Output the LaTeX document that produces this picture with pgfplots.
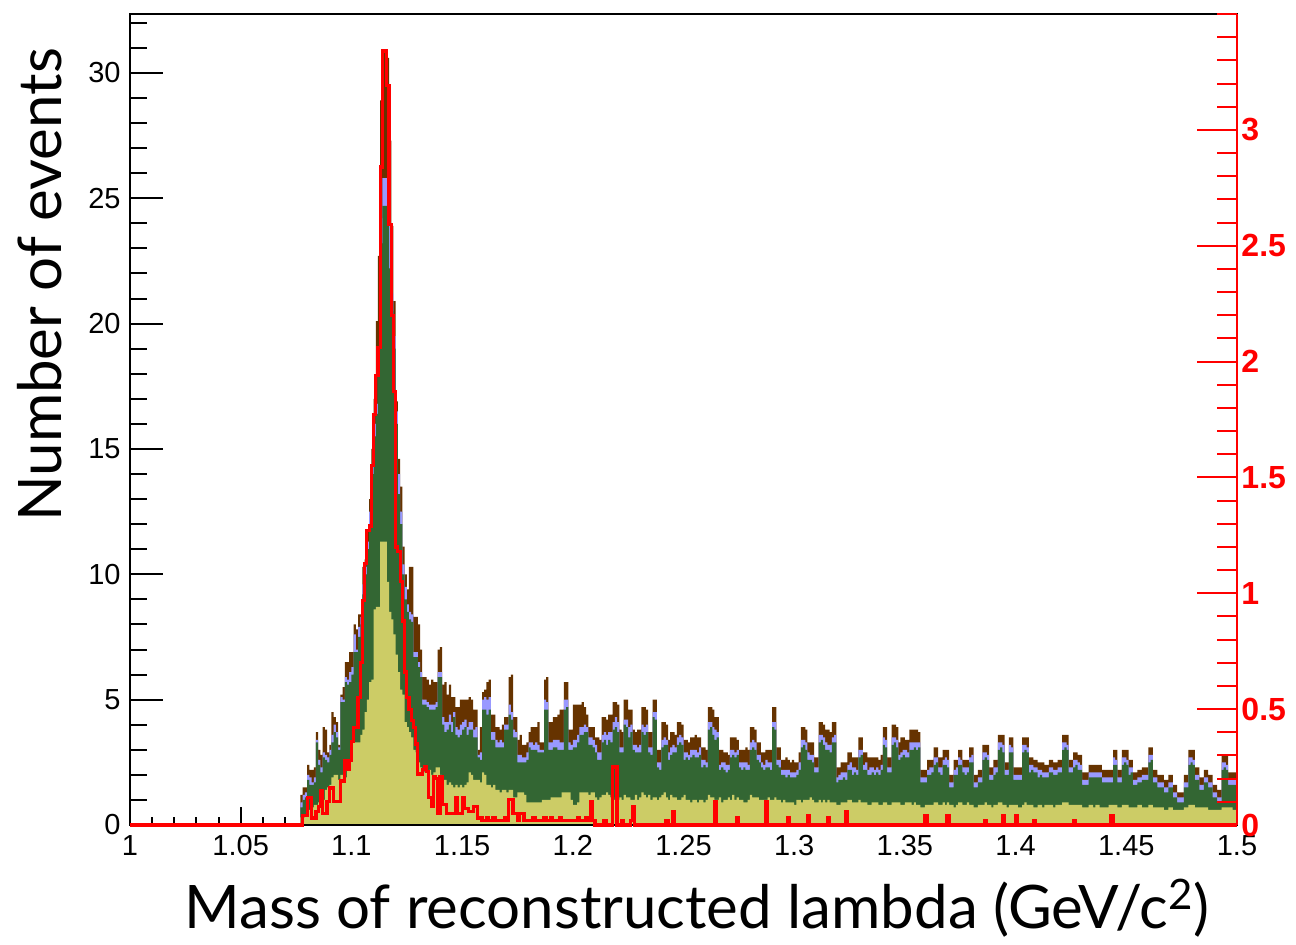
\documentclass[border=0pt]{standalone}
\usepackage{pgfplots}
\pgfplotsset{compat=1.18}
\usepackage{pgfplotstable}
\usepackage{fontspec}
\setmainfont{Liberation Sans}
\newfontfamily\titlefont{Lato}
\definecolor{cyel}{RGB}{204,204,102}
\definecolor{cgrn}{RGB}{51,102,51}
\definecolor{clav}{RGB}{153,153,255}
\definecolor{cbrn}{RGB}{102,51,0}
\pgfplotstableread{
x Y G L B R
1.000 0 0 0 0 0
1.076 0 0 0 0 0
1.077 0.3 0.7 0.9 1.2 0
1.078 0.3 1.0 1.2 1.5 0.04
1.079 0.4 1.1 1.3 1.5 0.04
1.080 0.6 1.8 2.0 2.4 0.12
1.081 0.6 1.6 1.9 2.2 0.12
1.082 0.7 1.6 1.7 2.2 0.03
1.083 0.8 1.7 1.9 2.3 0.03
1.084 0.8 3.3 3.4 3.7 0.06
1.085 0.9 2.4 2.6 3.0 0.08
1.086 1.0 2.1 2.3 2.8 0.15
1.087 1.0 2.7 2.9 3.9 0.05
1.088 1.4 2.6 2.8 3.8 0.05
1.089 1.5 2.5 2.7 2.9 0.10
1.090 1.6 2.8 3.0 3.2 0.16
1.091 1.9 3.3 3.6 4.5 0.16
1.092 2.0 3.7 4.0 4.3 0.10
1.093 2.0 3.5 3.7 4.1 0.10
1.094 1.8 3.0 3.1 3.2 0.10
1.095 2.0 4.9 5.1 5.2 0.19
1.096 2.0 4.9 5.0 5.5 0.19
1.097 1.9 5.7 5.9 6.5 0.28
1.098 2.5 5.6 5.8 6.5 0.24
1.099 2.6 5.7 6.1 6.9 0.28
1.100 3.3 6.0 6.3 6.9 0.36
1.101 3.3 6.9 7.6 8.0 0.42
1.102 3.3 6.9 7.0 7.8 0.42
1.103 3.3 7.5 7.9 8.4 0.55
1.104 3.6 8.0 8.3 8.4 0.70
1.105 3.8 9.2 9.6 10.3 0.97
1.106 4.5 10.0 10.3 10.6 1.13
1.107 5.0 11.0 11.3 11.8 1.27
1.108 5.7 12.0 12.5 13.0 1.29
1.109 5.8 14.0 14.4 15.0 1.55
1.110 8.6 15.5 16.0 17.0 1.77
1.111 8.7 16.4 16.8 20.1 1.94
1.112 8.7 18.5 19.0 22.7 2.06
1.113 11.3 23.2 24.2 28.9 2.84
1.114 11.3 24.7 25.8 30.8 3.34
1.115 11.3 24.7 25.8 30.8 3.34
1.116 9.7 24.5 25.5 30.6 3.19
1.117 8.5 22.2 23.9 27.3 2.59
1.118 8.2 20.5 21.2 23.9 2.20
1.119 7.6 19.0 19.5 20.9 1.87
1.120 6.8 16.0 16.5 16.9 1.20
1.121 6.1 13.2 14.0 14.6 1.18
1.122 5.4 12.0 12.5 13.5 1.05
1.123 5.2 10.0 10.4 11.1 0.88
1.124 4.1 9.0 9.5 10.0 0.66
1.125 3.9 8.5 8.8 9.4 0.55
1.126 3.7 8.2 8.5 10.3 0.50
1.127 3.5 8.1 8.4 10.3 0.45
1.128 3.0 6.7 6.9 8.3 0.42
1.129 2.9 6.7 6.9 8.3 0.35
1.130 2.5 6.3 6.5 8.0 0.22
1.131 2.3 5.9 6.1 7.0 0.22
1.132 2.2 4.8 5.0 5.9 0.24
1.133 2.1 4.8 5.0 5.9 0.25
1.134 2.1 4.7 4.9 5.8 0.23
1.135 2.2 4.6 4.8 5.6 0.12
1.136 2.0 4.6 4.8 5.8 0.08
1.137 2.1 4.6 4.8 5.7 0.21
1.138 2.3 4.7 4.9 5.7 0.20
1.139 2.3 5.9 6.1 7.0 0.05
1.140 2.0 5.9 6.1 7.1 0.21
1.141 1.8 4.0 4.3 5.6 0.09
1.142 1.8 3.7 4.1 5.7 0.09
1.143 1.6 3.8 4.1 5.2 0.05
1.144 1.7 4.0 4.4 5.6 0.05
1.145 1.6 3.7 4.1 5.1 0.05
1.146 1.5 4.3 4.5 5.1 0.05
1.147 1.6 3.6 3.9 4.7 0.12
1.148 1.5 3.5 3.8 4.7 0.05
1.149 1.6 3.6 4.0 5.0 0.05
1.150 1.5 3.8 4.1 5.0 0.12
1.151 1.6 3.9 4.2 5.0 0.07
1.152 1.7 3.6 3.9 5.0 0.07
1.153 2.1 3.8 4.1 5.1 0.06
1.154 2.0 3.8 4.1 5.0 0.06
1.155 1.8 3.5 3.8 4.6 0.08
1.156 1.8 3.5 3.9 4.6 0.08
1.157 1.8 2.7 2.8 3.0 0.03
1.158 1.7 2.6 2.9 3.9 0.03
1.159 2.1 4.6 5.0 5.3 0.02
1.160 2.0 4.6 5.1 5.4 0.02
1.161 1.6 4.4 5.0 5.7 0.03
1.162 1.6 4.6 5.1 5.8 0.02
1.163 1.5 3.4 3.7 4.4 0.02
1.164 1.6 3.4 3.7 4.4 0.03
1.165 1.4 3.1 3.4 3.9 0.02
1.166 1.4 3.1 3.3 3.9 0.02
1.167 1.3 3.1 3.4 3.8 0.02
1.168 1.4 3.1 3.3 4.0 0.02
1.169 1.4 3.8 4.0 4.3 0.03
1.170 1.3 3.8 4.0 4.3 0.02
1.171 1.4 4.4 4.8 5.9 0.11
1.172 1.4 4.2 4.5 6.0 0.11
1.173 1.1 3.5 3.8 4.3 0.05
1.174 1.1 3.5 3.7 4.3 0.05
1.175 1.3 2.5 2.8 3.4 0.02
1.176 1.3 2.5 2.8 3.6 0.05
1.177 1.3 2.5 2.7 3.2 0.05
1.178 1.2 2.5 2.7 3.2 0.02
1.179 0.9 2.6 2.9 3.3 0.02
1.180 0.9 3.1 3.3 3.7 0.02
1.181 0.9 3.0 3.3 3.9 0.02
1.182 0.9 3.0 3.2 3.9 0.03
1.183 0.9 3.0 3.3 3.9 0.02
1.184 0.9 2.9 3.2 4.1 0.02
1.185 0.9 2.9 3.0 3.3 0.02
1.186 1.0 2.9 3.0 3.3 0.02
1.187 1.0 4.6 5.0 5.8 0.03
1.188 1.0 4.6 4.9 5.9 0.02
1.189 1.0 3.0 3.3 4.1 0.02
1.190 1.1 3.0 3.3 4.1 0.03
1.191 1.1 3.1 3.4 4.3 0.02
1.192 1.1 3.1 3.4 4.3 0.02
1.193 1.1 3.0 3.4 4.4 0.02
1.194 1.1 3.0 3.3 4.6 0.03
1.195 1.3 3.0 3.3 4.6 0.02
1.196 1.3 4.6 5.0 5.7 0.02
1.197 1.3 4.7 5.0 5.7 0.02
1.198 1.3 3.0 3.3 3.8 0.02
1.199 1.0 3.0 3.2 3.8 0.02
1.200 0.8 3.1 3.4 4.8 0.02
1.201 0.8 3.1 3.4 4.8 0.02
1.202 0.9 3.3 3.6 4.8 0.03
1.203 1.3 3.6 3.9 4.8 0.02
1.204 1.3 3.6 3.9 4.9 0.02
1.205 1.3 3.7 4.0 4.7 0.02
1.206 1.3 3.7 3.9 4.4 0.03
1.207 1.2 3.2 3.5 3.9 0.02
1.208 1.3 3.2 3.5 3.9 0.10
1.209 1.3 3.1 3.4 3.9 0.02
1.210 1.1 2.9 3.2 3.5 0
1.211 1.0 2.6 2.9 3.5 0
1.212 1.1 2.6 2.9 3.4 0
1.213 1.2 3.3 3.6 4.3 0
1.214 1.2 3.4 3.7 4.3 0.02
1.215 1.3 3.2 3.6 4.2 0
1.216 1.2 3.4 3.7 4.4 0
1.217 1.1 3.3 3.7 4.4 0
1.218 1.0 3.8 4.1 4.9 0.25
1.219 1.1 3.9 4.3 4.9 0.25
1.220 1.0 3.7 4.1 4.8 0
1.221 1.1 2.9 3.1 3.8 0
1.222 1.0 2.9 3.1 3.7 0.02
1.223 1.2 4.0 4.2 5.0 0
1.224 1.1 3.9 4.2 5.0 0
1.225 1.1 3.5 3.9 4.6 0
1.226 1.0 3.7 4.0 4.6 0.02
1.227 1.0 3.0 3.2 3.8 0.08
1.228 1.2 2.9 3.2 3.7 0
1.229 1.0 2.9 3.1 3.8 0
1.230 1.1 2.9 3.2 3.8 0
1.231 1.3 3.7 4.0 4.7 0
1.232 1.2 3.6 3.9 4.7 0
1.233 1.1 3.7 4.0 4.6 0
1.234 1.2 2.9 3.1 3.7 0
1.235 1.0 2.8 3.1 3.7 0
1.236 1.1 4.3 4.5 5.0 0
1.237 1.1 4.2 4.5 5.0 0
1.238 1.0 2.3 2.5 3.0 0
1.239 1.1 2.2 2.5 3.0 0
1.240 1.2 3.1 3.4 4.1 0
1.241 1.3 3.2 3.5 4.1 0
1.242 1.1 3.2 3.4 4.0 0.02
1.243 1.0 2.6 2.9 3.4 0
1.244 1.2 2.8 3.1 3.7 0
1.245 1.1 2.9 3.2 3.7 0.06
1.246 1.1 2.9 3.1 3.6 0
1.247 1.0 3.2 3.5 4.1 0
1.248 1.0 3.3 3.6 4.1 0
1.249 1.1 3.2 3.5 4.0 0
1.250 1.2 2.6 2.9 3.4 0
1.251 1.0 2.7 2.9 3.4 0
1.252 1.0 2.6 2.8 3.3 0
1.253 0.9 2.7 3.0 3.5 0
1.254 1.0 2.8 3.0 3.5 0
1.255 1.0 2.7 3.0 3.6 0
1.256 0.9 2.7 2.9 3.5 0
1.257 1.0 2.8 3.1 3.5 0
1.258 1.0 2.3 2.6 3.1 0
1.259 0.9 2.4 2.6 3.1 0
1.260 1.0 2.3 2.5 3.0 0
1.261 1.2 3.8 4.1 4.7 0
1.262 1.1 3.9 4.1 4.7 0
1.263 1.1 3.6 3.9 4.6 0
1.264 1.0 3.4 3.8 4.3 0.10
1.265 1.0 3.5 3.7 4.3 0
1.266 1.1 2.2 2.4 3.0 0
1.267 0.9 2.3 2.5 3.0 0
1.268 1.0 2.2 2.5 2.9 0
1.269 1.0 2.1 2.4 2.9 0
1.270 1.1 2.2 2.4 2.8 0
1.271 1.0 2.7 3.0 3.5 0
1.272 1.2 2.8 3.0 3.5 0
1.273 1.0 2.7 2.9 3.5 0
1.274 1.1 2.8 3.0 3.4 0.03
1.275 1.0 2.3 2.5 3.0 0
1.276 1.0 2.2 2.5 3.0 0
1.277 0.9 2.3 2.5 3.0 0
1.278 0.9 2.2 2.5 3.1 0
1.279 1.0 2.2 2.4 3.0 0
1.280 1.2 3.0 3.3 3.9 0
1.281 1.1 3.1 3.4 3.9 0
1.282 1.1 3.0 3.3 3.8 0
1.283 1.1 2.6 2.8 3.3 0
1.284 1.0 2.5 2.8 3.3 0
1.285 1.0 2.3 2.5 2.9 0
1.286 1.0 2.2 2.4 2.9 0
1.287 1.0 2.3 2.6 3.0 0.10
1.288 1.1 2.3 2.5 3.0 0
1.289 1.0 2.2 2.5 3.0 0
1.290 1.0 3.9 4.1 4.7 0
1.291 1.1 3.8 4.1 4.7 0
1.292 1.0 2.4 2.6 3.1 0
1.293 1.0 2.3 2.6 3.1 0
1.294 0.9 2.0 2.2 2.6 0
1.295 1.0 2.0 2.2 2.6 0
1.296 0.9 1.9 2.2 2.7 0
1.297 0.9 2.0 2.2 2.6 0.03
1.298 0.9 1.9 2.1 2.5 0
1.299 0.9 1.9 2.1 2.6 0
1.300 0.8 1.9 2.1 2.5 0
1.301 1.0 2.0 2.2 2.5 0
1.302 1.0 2.2 2.5 2.9 0
1.303 0.9 3.1 3.4 3.9 0
1.304 1.0 3.2 3.4 3.9 0
1.305 1.0 3.0 3.3 3.8 0
1.306 1.0 2.6 2.9 3.3 0.04
1.307 1.1 2.6 2.8 3.3 0
1.308 1.0 2.5 2.8 3.3 0
1.309 0.9 2.1 2.3 2.7 0
1.310 0.9 2.1 2.3 2.7 0
1.311 1.0 3.3 3.6 4.1 0
1.312 0.9 3.4 3.6 4.1 0
1.313 1.0 3.2 3.5 4.0 0
1.314 0.9 3.0 3.3 3.8 0
1.315 1.0 3.0 3.2 3.8 0.03
1.316 0.9 2.9 3.2 3.7 0
1.317 0.9 3.3 3.5 4.1 0
1.318 0.9 3.3 3.6 4.1 0
1.319 0.8 1.7 1.9 2.3 0
1.320 0.8 1.8 2.0 2.3 0
1.321 0.9 1.8 2.1 2.5 0
1.322 0.9 1.9 2.1 2.5 0
1.323 0.9 1.8 2.1 2.5 0.06
1.324 1.0 2.2 2.4 2.9 0
1.325 1.0 2.2 2.5 2.9 0
1.326 0.9 2.0 2.3 2.7 0
1.327 0.9 2.1 2.3 2.7 0
1.328 0.9 2.0 2.2 2.7 0
1.329 1.0 2.7 3.0 3.5 0
1.330 0.9 2.8 3.0 3.5 0
1.331 0.9 2.2 2.4 2.9 0
1.332 0.9 2.2 2.5 2.9 0
1.333 0.8 2.0 2.2 2.7 0
1.334 0.8 2.0 2.3 2.7 0
1.335 0.9 2.1 2.3 2.7 0
1.336 0.9 2.0 2.2 2.7 0
1.337 0.9 2.1 2.3 2.7 0
1.338 0.8 2.0 2.2 2.6 0
1.339 0.8 2.2 2.4 2.8 0
1.340 0.9 3.2 3.5 3.9 0
1.341 0.9 3.1 3.4 3.9 0
1.342 0.8 2.1 2.3 2.7 0
1.343 0.8 2.1 2.3 2.7 0
1.344 0.9 3.2 3.5 4.0 0
1.345 0.9 3.3 3.5 4.0 0
1.346 0.9 3.1 3.4 3.9 0
1.347 0.9 2.6 2.8 3.3 0
1.348 0.8 2.7 2.9 3.5 0
1.349 0.8 2.8 3.0 3.5 0
1.350 0.9 2.7 3.0 3.4 0
1.351 0.9 2.7 2.9 3.4 0
1.352 0.9 3.0 3.3 3.8 0
1.353 0.8 3.0 3.3 3.8 0
1.354 0.9 3.1 3.3 3.8 0
1.355 0.8 3.0 3.3 3.8 0
1.356 0.8 3.1 3.3 3.7 0
1.357 0.7 1.7 1.9 2.2 0
1.358 0.7 1.7 1.9 2.2 0
1.359 0.8 1.7 1.9 2.2 0.04
1.360 0.8 2.0 2.2 2.6 0
1.361 0.8 2.0 2.3 2.6 0
1.362 0.8 2.1 2.3 2.6 0
1.363 0.9 2.4 2.7 3.1 0
1.364 0.9 2.5 2.7 3.1 0
1.365 0.8 2.1 2.3 2.7 0
1.366 0.8 2.0 2.3 2.7 0
1.367 0.9 2.4 2.6 3.0 0
1.368 0.8 2.4 2.7 3.0 0
1.369 0.9 2.3 2.6 3.0 0.04
1.370 0.8 1.5 1.7 2.0 0
1.371 0.8 1.5 1.7 2.0 0
1.372 0.7 2.0 2.2 2.6 0
1.373 0.8 2.0 2.3 2.6 0
1.374 0.9 2.4 2.7 3.0 0
1.375 0.9 2.4 2.6 3.0 0
1.376 0.8 2.1 2.3 2.6 0
1.377 0.8 2.0 2.3 2.6 0
1.378 0.9 2.1 2.3 2.6 0
1.379 0.8 2.5 2.7 3.1 0
1.380 0.8 2.5 2.8 3.1 0
1.381 0.7 1.5 1.7 2.0 0
1.382 0.7 1.5 1.7 2.0 0
1.383 0.8 1.7 1.9 2.2 0
1.384 0.8 1.7 1.9 2.2 0
1.385 0.8 2.6 2.9 3.2 0
1.386 0.9 2.7 2.9 3.2 0.02
1.387 0.8 2.6 2.8 3.2 0
1.388 0.8 1.8 2.0 2.3 0
1.389 0.7 1.8 2.0 2.3 0
1.390 0.8 2.0 2.3 2.6 0
1.391 0.8 2.1 2.3 2.6 0
1.392 0.9 3.0 3.3 3.6 0
1.393 0.9 3.1 3.3 3.6 0
1.394 0.8 2.9 3.2 3.6 0.04
1.395 0.8 2.0 2.2 2.5 0
1.396 0.7 2.0 2.2 2.5 0
1.397 0.8 2.9 3.2 3.5 0
1.398 0.8 2.9 3.1 3.5 0
1.399 0.8 1.8 2.0 2.3 0
1.400 0.8 1.8 2.0 2.3 0.04
1.401 0.7 1.8 2.0 2.3 0
1.402 0.7 1.8 2.0 2.3 0
1.403 0.8 2.9 3.2 3.5 0
1.404 0.9 3.0 3.2 3.5 0
1.405 0.8 2.9 3.1 3.5 0
1.406 0.8 2.1 2.4 2.7 0
1.407 0.8 2.2 2.4 2.7 0
1.408 0.7 2.1 2.3 2.6 0.02
1.409 0.7 2.1 2.3 2.6 0
1.410 0.8 1.9 2.2 2.5 0
1.411 0.8 2.0 2.2 2.5 0
1.412 0.7 1.9 2.1 2.5 0
1.413 0.8 1.9 2.1 2.4 0
1.414 0.8 1.9 2.1 2.4 0
1.415 0.8 2.1 2.3 2.6 0
1.416 0.8 2.1 2.3 2.6 0
1.417 0.7 2.0 2.2 2.5 0
1.418 0.8 2.0 2.2 2.5 0
1.419 0.8 2.1 2.3 2.6 0
1.420 0.8 2.1 2.3 2.6 0
1.421 0.9 3.0 3.3 3.6 0
1.422 0.9 3.1 3.3 3.6 0
1.423 0.9 3.0 3.2 3.6 0
1.424 0.8 2.1 2.3 2.6 0
1.425 0.8 2.1 2.3 2.6 0
1.426 0.8 2.3 2.6 2.9 0.02
1.427 0.8 2.4 2.6 2.9 0
1.428 0.8 2.2 2.5 2.8 0
1.429 0.8 2.2 2.4 2.8 0
1.430 0.7 1.6 1.8 2.1 0
1.431 0.7 1.6 1.8 2.1 0
1.432 0.7 1.6 1.8 2.1 0
1.433 0.8 1.9 2.1 2.4 0
1.434 0.8 1.9 2.1 2.4 0
1.435 0.7 1.9 2.1 2.4 0
1.436 0.8 1.9 2.1 2.4 0
1.437 0.8 1.9 2.1 2.4 0
1.438 0.7 1.9 2.1 2.4 0
1.439 0.7 1.7 1.9 2.2 0
1.440 0.7 1.7 1.9 2.2 0
1.441 0.7 1.7 1.9 2.2 0
1.442 0.8 1.7 1.9 2.2 0
1.443 0.8 1.7 1.9 2.2 0.04
1.444 0.8 2.4 2.7 3.0 0
1.445 0.8 2.4 2.6 3.0 0
1.446 0.7 1.7 1.9 2.2 0
1.447 0.7 1.7 1.9 2.2 0
1.448 0.8 2.4 2.7 3.0 0
1.449 0.8 2.5 2.7 3.0 0
1.450 0.8 2.4 2.6 3.0 0
1.451 0.7 2.0 2.3 2.6 0
1.452 0.7 2.1 2.3 2.6 0
1.453 0.7 1.6 1.8 2.1 0
1.454 0.7 1.6 1.8 2.1 0
1.455 0.8 1.7 1.9 2.2 0
1.456 0.8 1.7 1.9 2.2 0
1.457 0.7 1.8 2.0 2.3 0
1.458 0.7 1.8 2.0 2.3 0
1.459 0.7 1.8 2.0 2.3 0
1.460 0.8 2.5 2.8 3.1 0
1.461 0.8 2.6 2.8 3.1 0
1.462 0.7 1.7 1.9 2.2 0
1.463 0.7 1.7 1.9 2.2 0
1.464 0.7 1.5 1.7 2.0 0
1.465 0.7 1.5 1.7 2.0 0
1.466 0.7 1.5 1.7 2.0 0
1.467 0.6 1.3 1.5 1.8 0
1.468 0.6 1.3 1.5 1.8 0
1.469 0.7 1.5 1.7 2.0 0
1.470 0.7 1.5 1.7 2.0 0
1.471 0.6 1.1 1.3 1.6 0
1.472 0.6 1.1 1.3 1.6 0
1.473 0.6 0.9 1.1 1.3 0
1.474 0.6 0.9 1.1 1.3 0
1.475 0.6 0.9 1.1 1.3 0
1.476 0.7 1.5 1.7 2.0 0
1.477 0.7 1.5 1.7 2.0 0
1.478 0.8 2.4 2.7 3.0 0
1.479 0.8 2.5 2.7 3.0 0
1.480 0.8 2.4 2.6 3.0 0
1.481 0.7 1.8 2.0 2.3 0
1.482 0.7 1.8 2.0 2.3 0
1.483 0.7 1.4 1.6 1.9 0
1.484 0.7 1.4 1.6 1.9 0
1.485 0.7 1.7 1.9 2.2 0
1.486 0.7 1.7 1.9 2.2 0
1.487 0.6 1.5 1.7 2.0 0
1.488 0.6 1.5 1.7 2.0 0
1.489 0.6 1.1 1.3 1.6 0
1.490 0.6 1.1 1.3 1.6 0
1.491 0.6 0.9 1.1 1.4 0
1.492 0.6 0.9 1.1 1.4 0
1.493 0.7 2.2 2.5 2.8 0
1.494 0.7 2.3 2.5 2.8 0
1.495 0.7 2.2 2.4 2.8 0
1.496 0.7 1.6 1.8 2.1 0
1.497 0.7 1.6 1.8 2.1 0
1.498 0.6 1.6 1.8 2.1 0
1.499 0.6 1.6 1.8 2.1 0
1.500 0.6 1.6 1.8 2.1 0
}\data
\begin{document}
\begin{tikzpicture}
\useasboundingbox (-65pt,-59.5pt) rectangle (583pt,412.5pt);
\pgfplotsset{every axis/.append style={at={(0pt,0pt)}, anchor=south west,
  width=553.5pt, height=405.5pt, scale only axis,
  xmin=1, xmax=1.5, axis line style={line width=1pt},
  /pgf/number format/assume math mode=true}}
% main data axis with x ticks
\begin{axis}[
  ymin=0, ymax=32.35,
  xtick={1,1.05,1.1,1.15,1.2,1.25,1.3,1.35,1.4,1.45,1.5},
  minor xtick={1,1.01,...,1.5},
  xtick pos=left, ytick=\empty,
  tick align=inside,
  major tick length=9pt, minor tick length=4pt,
  every tick/.style={black, line width=1pt},
  xticklabel style={font=\fontsize{14.5}{17}\selectfont, yshift=-1.7pt,
    /pgf/number format/.cd, fixed, precision=2},
  scaled x ticks=false,
]
\addplot[const plot, fill=cbrn, draw=none] table[x=x,y=B]{\data} \closedcycle;
\addplot[const plot, fill=clav, draw=none] table[x=x,y=L]{\data} \closedcycle;
\addplot[const plot, fill=cgrn, draw=none] table[x=x,y=G]{\data} \closedcycle;
\addplot[const plot, fill=cyel, draw=none] table[x=x,y=Y]{\data} \closedcycle;
\end{axis}
% left y axis ticks
\begin{axis}[
  ymin=0, ymax=32.35,
  xtick=\empty,
  ytick={0,5,10,15,20,25,30},
  minor ytick={0,1,...,32},
  ytick pos=left, tick align=inside,
  major tick length=16.5pt, minor tick length=8.5pt,
  every tick/.style={black, line width=1pt},
  yticklabel style={font=\fontsize{14.5}{17}\selectfont, xshift=-1.2pt},
]
\end{axis}
% right red axis
\begin{axis}[
  ymin=0, ymax=3.5,
  axis y line*=right, axis x line=none,
  ytick={0,0.5,1,1.5,2,2.5,3},
  minor ytick={0,0.1,...,3.45},
  ytick align=inside,
  major tick length=20pt, minor tick length=10pt,
  every tick/.style={red, line width=1pt},
  y axis line style={red, line width=1pt},
  yticklabel style={text=red, font=\fontsize{16}{19}\selectfont\bfseries, xshift=-1.3pt,
    /pgf/number format/.cd, fixed, precision=1},
  clip=false,
]
\addplot[const plot, red, line width=1.6pt] table[x=x,y=R]{\data};
\end{axis}
\node[font=\titlefont\fontsize{30}{36}\selectfont, anchor=base] at (283.5pt,-51.5pt) {Mass of reconstructed lambda (GeV/c\textsuperscript{2})};
\node[font=\titlefont\fontsize{30}{36}\selectfont, rotate=90, anchor=base] at (-34pt,270pt) {Number of events};
\end{tikzpicture}
\end{document}
